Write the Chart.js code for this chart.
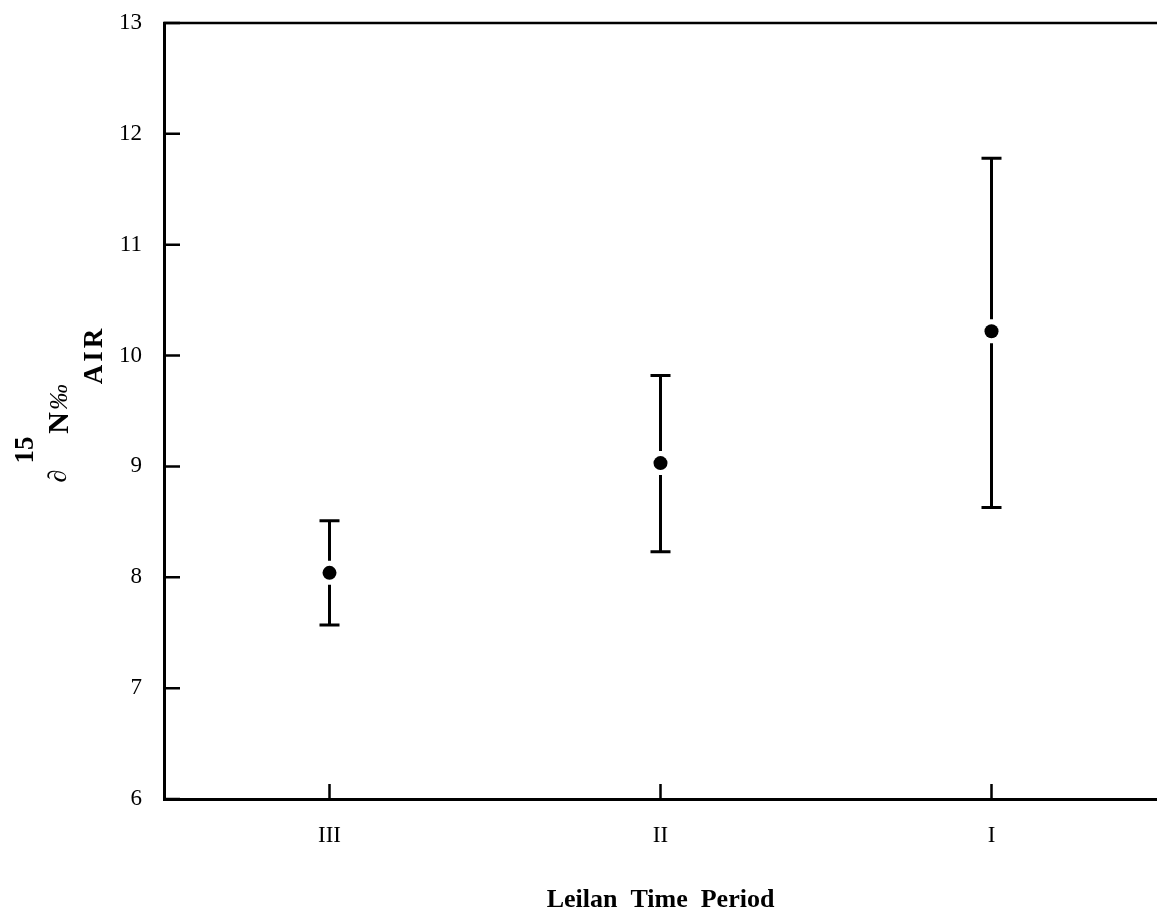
<!DOCTYPE html>
<html>
<head>
<meta charset="utf-8">
<script src="https://cdn.jsdelivr.net/npm/chart.js@4.4.1/dist/chart.umd.min.js"></script>
<style>
  html, body { margin: 0; padding: 0; background: #fff; }
  #wrap { width: 1157px; height: 918px; position: relative; }
</style>
</head>
<body>
<div id="wrap"><canvas id="isoChart"></canvas></div>
<script>
// Leilan time periods and d15N (per mil, AIR) means with error bar limits
const periods = ["III", "II", "I"];
const means = [8.04, 9.03, 10.22];
const upper = [8.51, 9.82, 11.78];
const lower = [7.57, 8.23, 8.63];
const yTicks = [6, 7, 8, 9, 10, 11, 12, 13];

const SERIF = '"Liberation Serif", "Times New Roman", serif';

// error bars + inward ticks + top frame line + y axis title
const paperStyle = {
  id: "paperStyle",
  afterDatasetsDraw(chart) {
    const ctx = chart.ctx;
    const xs = chart.scales.x, ys = chart.scales.y;
    ctx.save();
    ctx.strokeStyle = "#000";
    ctx.lineWidth = 3;
    means.forEach((m, i) => {
      const px = xs.getPixelForValue(i);
      const pm = ys.getPixelForValue(m);
      const pu = ys.getPixelForValue(upper[i]);
      const pl = ys.getPixelForValue(lower[i]);
      ctx.beginPath();
      ctx.moveTo(px, pu); ctx.lineTo(px, pm - 12);
      ctx.moveTo(px, pm + 12); ctx.lineTo(px, pl);
      ctx.moveTo(px - 10, pu); ctx.lineTo(px + 10, pu);
      ctx.moveTo(px - 10, pl); ctx.lineTo(px + 10, pl);
      ctx.stroke();
    });
    ctx.restore();
  },
  afterDraw(chart) {
    const ctx = chart.ctx;
    const a = chart.chartArea;
    const xs = chart.scales.x, ys = chart.scales.y;
    ctx.save();
    ctx.strokeStyle = "#000";
    ctx.lineWidth = 2.5;
    // top frame
    ctx.beginPath();
    ctx.moveTo(a.left - 1, a.top);
    ctx.lineTo(chart.width, a.top);
    ctx.stroke();
    // ticks pointing into the plot
    ctx.beginPath();
    yTicks.forEach(v => {
      const py = ys.getPixelForValue(v);
      ctx.moveTo(a.left, py); ctx.lineTo(a.left + 16, py);
    });
    periods.forEach((p, i) => {
      const px = xs.getPixelForValue(i);
      ctx.moveTo(px, a.bottom); ctx.lineTo(px, a.bottom - 15);
    });
    ctx.stroke();

    // y title: superscript 15, ∂ N‰, subscript AIR (rotated)
    ctx.fillStyle = "#000";
    ctx.textAlign = "center";
    ctx.textBaseline = "middle";
    const put = (txt, font, x, y, spacing) => {
      ctx.save();
      ctx.translate(x, y);
      ctx.rotate(-Math.PI / 2);
      ctx.font = font;
      ctx.letterSpacing = spacing || "0px";
      ctx.fillText(txt, 0, 0);
      ctx.restore();
    };
    put("15", "bold 27px " + SERIF, 26, 450);
    put("\u2202", "26px " + SERIF, 59, 476);
    put("N", "bold 30px " + SERIF, 60, 423);
    put("\u2030", "italic 26px " + SERIF, 60, 397);
    put("AIR", "bold 27px " + SERIF, 95, 355, "3px");
    ctx.restore();
  }
};

new Chart(document.getElementById("isoChart"), {
  type: "line",
  data: {
    labels: periods,
    datasets: [{
      data: means,
      showLine: false,
      pointRadius: 7,
      pointHoverRadius: 7,
      pointBackgroundColor: "#000",
      pointBorderColor: "#000",
      pointBorderWidth: 0
    }]
  },
  options: {
    responsive: true,
    maintainAspectRatio: false,
    animation: false,
    layout: { autoPadding: false, padding: { top: 23, right: 0, left: 0, bottom: 0 } },
    plugins: { legend: { display: false }, tooltip: { enabled: false } },
    scales: {
      x: {
        type: "category",
        offset: true,
        grid: { display: false, drawTicks: false },
        border: { display: true, color: "#000", width: 3 },
        ticks: { color: "#000", padding: 23, font: { family: SERIF, size: 23 } },
        title: {
          display: true,
          text: "Leilan  Time  Period",
          color: "#000",
          font: { family: SERIF, size: 26, weight: "bold" },
          padding: { top: 0, bottom: 2 }
        },
        afterFit(scale) {
          scale.height = 119;
          scale.paddingLeft = 0;
          scale.paddingRight = 0;
        }
      },
      y: {
        min: 6,
        max: 13,
        grid: { display: false, drawTicks: false },
        border: { display: true, color: "#000", width: 3 },
        ticks: { stepSize: 1, color: "#000", padding: 22, font: { family: SERIF, size: 23 } },
        afterFit(scale) {
          scale.width = 164;
          scale.paddingTop = 0;
          scale.paddingBottom = 0;
        }
      }
    }
  },
  plugins: [paperStyle]
});
</script>
</body>
</html>
